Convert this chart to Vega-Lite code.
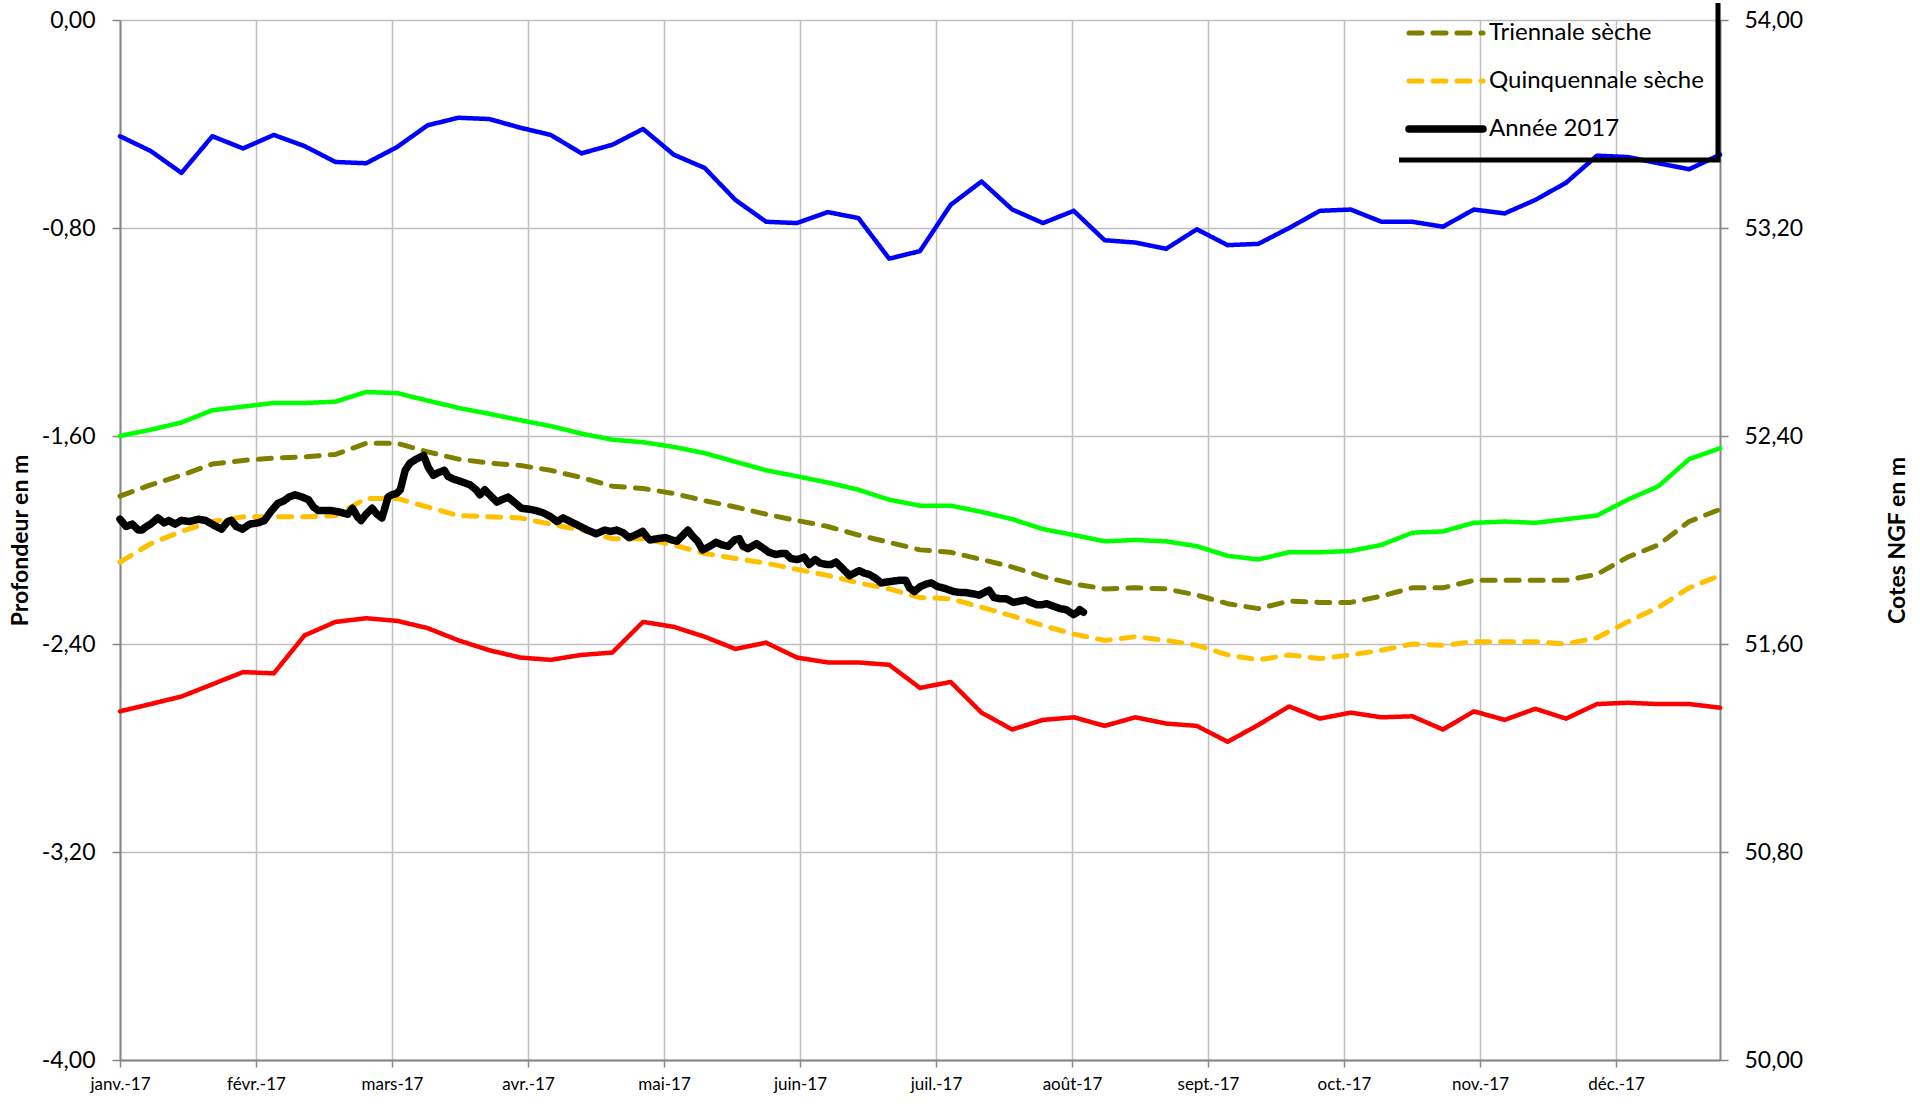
{
  "$schema": "https://vega.github.io/schema/vega-lite/v6.json",
  "width": 1600,
  "height": 1040,
  "autosize": {"type": "none"},
  "padding": {"left": 120, "top": 20, "right": 200, "bottom": 45},
  "background": "white",
  "config": {
    "font": "Lato",
    "view": {"stroke": null},
    "axis": {
      "labelFont": "Lato",
      "labelColor": "black",
      "titleFont": "Lato",
      "titleColor": "black",
      "domainColor": "#868686",
      "domainWidth": 2,
      "tickColor": "#868686",
      "tickWidth": 1.5,
      "gridColor": "#BFBFBF",
      "gridWidth": 1.5
    }
  },
  "datasets": {
    "stats": [
      {"mois": 0, "Maximum": -0.447, "Moyenne": -1.600, "Minimum": -2.659, "Triennale sèche": -1.831, "Quinquennale sèche": -2.085},
      {"mois": 0.226, "Maximum": -0.504, "Moyenne": -1.576, "Minimum": -2.631, "Triennale sèche": -1.788, "Quinquennale sèche": -2.014},
      {"mois": 0.452, "Maximum": -0.588, "Moyenne": -1.548, "Minimum": -2.602, "Triennale sèche": -1.751, "Quinquennale sèche": -1.967},
      {"mois": 0.679, "Maximum": -0.447, "Moyenne": -1.501, "Minimum": -2.555, "Triennale sèche": -1.708, "Quinquennale sèche": -1.929},
      {"mois": 0.905, "Maximum": -0.494, "Moyenne": -1.487, "Minimum": -2.508, "Triennale sèche": -1.694, "Quinquennale sèche": -1.911},
      {"mois": 1.131, "Maximum": -0.442, "Moyenne": -1.473, "Minimum": -2.513, "Triennale sèche": -1.685, "Quinquennale sèche": -1.911},
      {"mois": 1.357, "Maximum": -0.485, "Moyenne": -1.473, "Minimum": -2.367, "Triennale sèche": -1.680, "Quinquennale sèche": -1.911},
      {"mois": 1.584, "Maximum": -0.546, "Moyenne": -1.468, "Minimum": -2.315, "Triennale sèche": -1.671, "Quinquennale sèche": -1.906},
      {"mois": 1.810, "Maximum": -0.551, "Moyenne": -1.431, "Minimum": -2.301, "Triennale sèche": -1.628, "Quinquennale sèche": -1.840},
      {"mois": 2.036, "Maximum": -0.489, "Moyenne": -1.435, "Minimum": -2.311, "Triennale sèche": -1.628, "Quinquennale sèche": -1.840},
      {"mois": 2.262, "Maximum": -0.405, "Moyenne": -1.464, "Minimum": -2.339, "Triennale sèche": -1.661, "Quinquennale sèche": -1.873},
      {"mois": 2.489, "Maximum": -0.376, "Moyenne": -1.492, "Minimum": -2.386, "Triennale sèche": -1.689, "Quinquennale sèche": -1.906},
      {"mois": 2.715, "Maximum": -0.381, "Moyenne": -1.515, "Minimum": -2.424, "Triennale sèche": -1.704, "Quinquennale sèche": -1.911},
      {"mois": 2.941, "Maximum": -0.414, "Moyenne": -1.539, "Minimum": -2.452, "Triennale sèche": -1.713, "Quinquennale sèche": -1.915},
      {"mois": 3.167, "Maximum": -0.442, "Moyenne": -1.562, "Minimum": -2.461, "Triennale sèche": -1.732, "Quinquennale sèche": -1.939},
      {"mois": 3.394, "Maximum": -0.513, "Moyenne": -1.591, "Minimum": -2.442, "Triennale sèche": -1.760, "Quinquennale sèche": -1.962},
      {"mois": 3.620, "Maximum": -0.480, "Moyenne": -1.614, "Minimum": -2.433, "Triennale sèche": -1.793, "Quinquennale sèche": -1.995},
      {"mois": 3.846, "Maximum": -0.419, "Moyenne": -1.624, "Minimum": -2.315, "Triennale sèche": -1.802, "Quinquennale sèche": -1.995},
      {"mois": 4.072, "Maximum": -0.518, "Moyenne": -1.642, "Minimum": -2.334, "Triennale sèche": -1.821, "Quinquennale sèche": -2.019},
      {"mois": 4.299, "Maximum": -0.569, "Moyenne": -1.666, "Minimum": -2.372, "Triennale sèche": -1.849, "Quinquennale sèche": -2.052},
      {"mois": 4.525, "Maximum": -0.692, "Moyenne": -1.699, "Minimum": -2.419, "Triennale sèche": -1.873, "Quinquennale sèche": -2.071},
      {"mois": 4.751, "Maximum": -0.776, "Moyenne": -1.732, "Minimum": -2.395, "Triennale sèche": -1.901, "Quinquennale sèche": -2.089},
      {"mois": 4.977, "Maximum": -0.781, "Moyenne": -1.755, "Minimum": -2.452, "Triennale sèche": -1.925, "Quinquennale sèche": -2.113},
      {"mois": 5.204, "Maximum": -0.739, "Moyenne": -1.779, "Minimum": -2.471, "Triennale sèche": -1.948, "Quinquennale sèche": -2.136},
      {"mois": 5.430, "Maximum": -0.762, "Moyenne": -1.807, "Minimum": -2.471, "Triennale sèche": -1.981, "Quinquennale sèche": -2.165},
      {"mois": 5.656, "Maximum": -0.918, "Moyenne": -1.845, "Minimum": -2.480, "Triennale sèche": -2.009, "Quinquennale sèche": -2.188},
      {"mois": 5.882, "Maximum": -0.889, "Moyenne": -1.868, "Minimum": -2.569, "Triennale sèche": -2.038, "Quinquennale sèche": -2.221},
      {"mois": 6.108, "Maximum": -0.711, "Moyenne": -1.868, "Minimum": -2.546, "Triennale sèche": -2.047, "Quinquennale sèche": -2.226},
      {"mois": 6.335, "Maximum": -0.621, "Moyenne": -1.892, "Minimum": -2.664, "Triennale sèche": -2.075, "Quinquennale sèche": -2.259},
      {"mois": 6.561, "Maximum": -0.729, "Moyenne": -1.920, "Minimum": -2.729, "Triennale sèche": -2.104, "Quinquennale sèche": -2.292},
      {"mois": 6.787, "Maximum": -0.781, "Moyenne": -1.958, "Minimum": -2.692, "Triennale sèche": -2.141, "Quinquennale sèche": -2.329},
      {"mois": 7.013, "Maximum": -0.734, "Moyenne": -1.981, "Minimum": -2.682, "Triennale sèche": -2.169, "Quinquennale sèche": -2.362},
      {"mois": 7.240, "Maximum": -0.847, "Moyenne": -2.005, "Minimum": -2.715, "Triennale sèche": -2.188, "Quinquennale sèche": -2.386},
      {"mois": 7.466, "Maximum": -0.856, "Moyenne": -2.000, "Minimum": -2.682, "Triennale sèche": -2.184, "Quinquennale sèche": -2.372},
      {"mois": 7.692, "Maximum": -0.880, "Moyenne": -2.005, "Minimum": -2.706, "Triennale sèche": -2.188, "Quinquennale sèche": -2.386},
      {"mois": 7.918, "Maximum": -0.805, "Moyenne": -2.024, "Minimum": -2.715, "Triennale sèche": -2.212, "Quinquennale sèche": -2.405},
      {"mois": 8.145, "Maximum": -0.866, "Moyenne": -2.061, "Minimum": -2.776, "Triennale sèche": -2.245, "Quinquennale sèche": -2.442},
      {"mois": 8.371, "Maximum": -0.861, "Moyenne": -2.075, "Minimum": -2.711, "Triennale sèche": -2.264, "Quinquennale sèche": -2.461},
      {"mois": 8.597, "Maximum": -0.800, "Moyenne": -2.047, "Minimum": -2.640, "Triennale sèche": -2.235, "Quinquennale sèche": -2.442},
      {"mois": 8.823, "Maximum": -0.734, "Moyenne": -2.047, "Minimum": -2.687, "Triennale sèche": -2.240, "Quinquennale sèche": -2.456},
      {"mois": 9.050, "Maximum": -0.729, "Moyenne": -2.042, "Minimum": -2.664, "Triennale sèche": -2.240, "Quinquennale sèche": -2.442},
      {"mois": 9.276, "Maximum": -0.776, "Moyenne": -2.019, "Minimum": -2.682, "Triennale sèche": -2.216, "Quinquennale sèche": -2.424},
      {"mois": 9.502, "Maximum": -0.776, "Moyenne": -1.972, "Minimum": -2.678, "Triennale sèche": -2.184, "Quinquennale sèche": -2.400},
      {"mois": 9.728, "Maximum": -0.795, "Moyenne": -1.967, "Minimum": -2.729, "Triennale sèche": -2.184, "Quinquennale sèche": -2.405},
      {"mois": 9.955, "Maximum": -0.729, "Moyenne": -1.934, "Minimum": -2.659, "Triennale sèche": -2.155, "Quinquennale sèche": -2.391},
      {"mois": 10.181, "Maximum": -0.744, "Moyenne": -1.929, "Minimum": -2.692, "Triennale sèche": -2.155, "Quinquennale sèche": -2.391},
      {"mois": 10.407, "Maximum": -0.692, "Moyenne": -1.934, "Minimum": -2.649, "Triennale sèche": -2.155, "Quinquennale sèche": -2.391},
      {"mois": 10.633, "Maximum": -0.626, "Moyenne": -1.920, "Minimum": -2.687, "Triennale sèche": -2.155, "Quinquennale sèche": -2.400},
      {"mois": 10.860, "Maximum": -0.522, "Moyenne": -1.906, "Minimum": -2.631, "Triennale sèche": -2.132, "Quinquennale sèche": -2.376},
      {"mois": 11.086, "Maximum": -0.527, "Moyenne": -1.845, "Minimum": -2.626, "Triennale sèche": -2.066, "Quinquennale sèche": -2.315},
      {"mois": 11.312, "Maximum": -0.551, "Moyenne": -1.793, "Minimum": -2.631, "Triennale sèche": -2.019, "Quinquennale sèche": -2.259},
      {"mois": 11.538, "Maximum": -0.574, "Moyenne": -1.689, "Minimum": -2.631, "Triennale sèche": -1.929, "Quinquennale sèche": -2.184},
      {"mois": 11.765, "Maximum": -0.518, "Moyenne": -1.647, "Minimum": -2.645, "Triennale sèche": -1.882, "Quinquennale sèche": -2.136}
    ],
    "annee": [
      {"mois": 0, "Année 2017": -1.920},
      {"mois": 0.045, "Année 2017": -1.948},
      {"mois": 0.090, "Année 2017": -1.939},
      {"mois": 0.135, "Année 2017": -1.962},
      {"mois": 0.162, "Année 2017": -1.962},
      {"mois": 0.180, "Année 2017": -1.953},
      {"mois": 0.225, "Année 2017": -1.939},
      {"mois": 0.279, "Année 2017": -1.915},
      {"mois": 0.324, "Année 2017": -1.934},
      {"mois": 0.360, "Année 2017": -1.925},
      {"mois": 0.405, "Année 2017": -1.939},
      {"mois": 0.450, "Année 2017": -1.925},
      {"mois": 0.513, "Année 2017": -1.929},
      {"mois": 0.576, "Année 2017": -1.920},
      {"mois": 0.630, "Année 2017": -1.925},
      {"mois": 0.693, "Année 2017": -1.944},
      {"mois": 0.747, "Année 2017": -1.958},
      {"mois": 0.792, "Année 2017": -1.929},
      {"mois": 0.819, "Année 2017": -1.925},
      {"mois": 0.855, "Année 2017": -1.948},
      {"mois": 0.900, "Année 2017": -1.958},
      {"mois": 0.954, "Année 2017": -1.939},
      {"mois": 1.017, "Année 2017": -1.934},
      {"mois": 1.062, "Année 2017": -1.925},
      {"mois": 1.107, "Année 2017": -1.892},
      {"mois": 1.161, "Année 2017": -1.859},
      {"mois": 1.206, "Année 2017": -1.849},
      {"mois": 1.242, "Année 2017": -1.835},
      {"mois": 1.287, "Année 2017": -1.826},
      {"mois": 1.341, "Année 2017": -1.835},
      {"mois": 1.386, "Année 2017": -1.845},
      {"mois": 1.422, "Année 2017": -1.873},
      {"mois": 1.458, "Année 2017": -1.887},
      {"mois": 1.512, "Année 2017": -1.887},
      {"mois": 1.557, "Année 2017": -1.887},
      {"mois": 1.611, "Année 2017": -1.892},
      {"mois": 1.674, "Année 2017": -1.901},
      {"mois": 1.710, "Année 2017": -1.878},
      {"mois": 1.746, "Année 2017": -1.911},
      {"mois": 1.773, "Année 2017": -1.925},
      {"mois": 1.809, "Année 2017": -1.901},
      {"mois": 1.854, "Année 2017": -1.878},
      {"mois": 1.890, "Année 2017": -1.901},
      {"mois": 1.926, "Année 2017": -1.915},
      {"mois": 1.971, "Année 2017": -1.835},
      {"mois": 1.998, "Année 2017": -1.826},
      {"mois": 2.034, "Année 2017": -1.821},
      {"mois": 2.061, "Année 2017": -1.807},
      {"mois": 2.097, "Année 2017": -1.732},
      {"mois": 2.133, "Année 2017": -1.704},
      {"mois": 2.178, "Année 2017": -1.689},
      {"mois": 2.232, "Année 2017": -1.675},
      {"mois": 2.268, "Année 2017": -1.722},
      {"mois": 2.304, "Année 2017": -1.751},
      {"mois": 2.340, "Année 2017": -1.741},
      {"mois": 2.385, "Année 2017": -1.732},
      {"mois": 2.412, "Année 2017": -1.755},
      {"mois": 2.448, "Année 2017": -1.765},
      {"mois": 2.502, "Année 2017": -1.774},
      {"mois": 2.574, "Année 2017": -1.788},
      {"mois": 2.619, "Année 2017": -1.807},
      {"mois": 2.646, "Année 2017": -1.826},
      {"mois": 2.682, "Année 2017": -1.807},
      {"mois": 2.727, "Année 2017": -1.831},
      {"mois": 2.772, "Année 2017": -1.854},
      {"mois": 2.808, "Année 2017": -1.845},
      {"mois": 2.853, "Année 2017": -1.835},
      {"mois": 2.898, "Année 2017": -1.854},
      {"mois": 2.952, "Année 2017": -1.878},
      {"mois": 3.015, "Année 2017": -1.882},
      {"mois": 3.060, "Année 2017": -1.887},
      {"mois": 3.114, "Année 2017": -1.896},
      {"mois": 3.168, "Année 2017": -1.911},
      {"mois": 3.213, "Année 2017": -1.929},
      {"mois": 3.258, "Année 2017": -1.915},
      {"mois": 3.312, "Année 2017": -1.929},
      {"mois": 3.384, "Année 2017": -1.948},
      {"mois": 3.438, "Année 2017": -1.962},
      {"mois": 3.501, "Année 2017": -1.976},
      {"mois": 3.564, "Année 2017": -1.962},
      {"mois": 3.609, "Année 2017": -1.967},
      {"mois": 3.654, "Année 2017": -1.962},
      {"mois": 3.699, "Année 2017": -1.972},
      {"mois": 3.744, "Année 2017": -1.991},
      {"mois": 3.789, "Année 2017": -1.981},
      {"mois": 3.843, "Année 2017": -1.967},
      {"mois": 3.879, "Année 2017": -1.991},
      {"mois": 3.897, "Année 2017": -2.000},
      {"mois": 3.951, "Année 2017": -1.995},
      {"mois": 4.014, "Année 2017": -1.991},
      {"mois": 4.059, "Année 2017": -2.000},
      {"mois": 4.095, "Année 2017": -2.005},
      {"mois": 4.140, "Année 2017": -1.981},
      {"mois": 4.176, "Année 2017": -1.962},
      {"mois": 4.212, "Année 2017": -1.986},
      {"mois": 4.248, "Année 2017": -2.005},
      {"mois": 4.284, "Année 2017": -2.038},
      {"mois": 4.338, "Année 2017": -2.024},
      {"mois": 4.383, "Année 2017": -2.009},
      {"mois": 4.428, "Année 2017": -2.019},
      {"mois": 4.473, "Année 2017": -2.024},
      {"mois": 4.518, "Année 2017": -2.000},
      {"mois": 4.554, "Année 2017": -1.995},
      {"mois": 4.581, "Année 2017": -2.024},
      {"mois": 4.617, "Année 2017": -2.033},
      {"mois": 4.680, "Année 2017": -2.014},
      {"mois": 4.734, "Année 2017": -2.033},
      {"mois": 4.770, "Année 2017": -2.047},
      {"mois": 4.824, "Année 2017": -2.056},
      {"mois": 4.860, "Année 2017": -2.052},
      {"mois": 4.896, "Année 2017": -2.052},
      {"mois": 4.932, "Année 2017": -2.071},
      {"mois": 4.977, "Année 2017": -2.075},
      {"mois": 5.004, "Année 2017": -2.071},
      {"mois": 5.031, "Année 2017": -2.066},
      {"mois": 5.067, "Année 2017": -2.094},
      {"mois": 5.112, "Année 2017": -2.075},
      {"mois": 5.148, "Année 2017": -2.089},
      {"mois": 5.193, "Année 2017": -2.094},
      {"mois": 5.229, "Année 2017": -2.094},
      {"mois": 5.265, "Année 2017": -2.085},
      {"mois": 5.310, "Année 2017": -2.108},
      {"mois": 5.364, "Année 2017": -2.137},
      {"mois": 5.400, "Année 2017": -2.127},
      {"mois": 5.436, "Année 2017": -2.118},
      {"mois": 5.472, "Année 2017": -2.127},
      {"mois": 5.508, "Année 2017": -2.132},
      {"mois": 5.553, "Année 2017": -2.146},
      {"mois": 5.598, "Année 2017": -2.165},
      {"mois": 5.661, "Année 2017": -2.160},
      {"mois": 5.733, "Année 2017": -2.155},
      {"mois": 5.778, "Année 2017": -2.155},
      {"mois": 5.805, "Année 2017": -2.184},
      {"mois": 5.841, "Année 2017": -2.198},
      {"mois": 5.886, "Année 2017": -2.179},
      {"mois": 5.931, "Année 2017": -2.169},
      {"mois": 5.967, "Année 2017": -2.165},
      {"mois": 6.012, "Année 2017": -2.179},
      {"mois": 6.075, "Année 2017": -2.188},
      {"mois": 6.129, "Année 2017": -2.198},
      {"mois": 6.174, "Année 2017": -2.202},
      {"mois": 6.219, "Année 2017": -2.202},
      {"mois": 6.273, "Année 2017": -2.207},
      {"mois": 6.318, "Année 2017": -2.212},
      {"mois": 6.354, "Année 2017": -2.202},
      {"mois": 6.390, "Année 2017": -2.193},
      {"mois": 6.426, "Année 2017": -2.221},
      {"mois": 6.471, "Année 2017": -2.226},
      {"mois": 6.516, "Année 2017": -2.226},
      {"mois": 6.570, "Année 2017": -2.240},
      {"mois": 6.615, "Année 2017": -2.235},
      {"mois": 6.660, "Année 2017": -2.231},
      {"mois": 6.697, "Année 2017": -2.240},
      {"mois": 6.742, "Année 2017": -2.249},
      {"mois": 6.778, "Année 2017": -2.249},
      {"mois": 6.814, "Année 2017": -2.245},
      {"mois": 6.859, "Année 2017": -2.254},
      {"mois": 6.913, "Année 2017": -2.264},
      {"mois": 6.958, "Année 2017": -2.268},
      {"mois": 7.012, "Année 2017": -2.287},
      {"mois": 7.039, "Année 2017": -2.278},
      {"mois": 7.057, "Année 2017": -2.268},
      {"mois": 7.084, "Année 2017": -2.278}
    ],
    "cotes": [{"cote": 50}, {"cote": 54}]
  },
  "layer": [
    {
      "encoding": {
        "x": {
          "field": "mois",
          "type": "quantitative",
          "scale": {"domain": [0, 11.765], "nice": false, "zero": false},
          "axis": {
            "values": [0, 1, 2, 3, 4, 5, 6, 7, 8, 9, 10, 11],
            "labelExpr": "['janv.-17','févr.-17','mars-17','avr.-17','mai-17','juin-17','juil.-17','août-17','sept.-17','oct.-17','nov.-17','déc.-17'][datum.value]",
            "labelFontSize": 17,
            "labelAngle": 0,
            "labelFlush": false,
            "labelOverlap": false,
            "tickSize": 7,
            "labelPadding": 9,
            "title": null,
            "grid": true
          }
        },
        "y": {
          "field": "profondeur",
          "type": "quantitative",
          "scale": {"domain": [-4, 0], "nice": false, "zero": false},
          "axis": {
            "values": [-4, -3.2, -2.4, -1.6, -0.8, 0],
            "labelExpr": "(datum.value < 0 ? '-' : '') + replace(format(abs(datum.value), '.2f'), '.', ',')",
            "labelFontSize": 23,
            "tickSize": 8,
            "labelPadding": 17,
            "title": "Profondeur en m",
            "titleFontSize": 23,
            "titleFontWeight": "bold",
            "titleX": -100,
            "titleY": 520,
            "titleAngle": 270,
            "titleBaseline": "middle",
            "titleAlign": "center",
            "grid": true
          }
        },
        "color": {
          "field": "serie",
          "type": "nominal",
          "scale": {
            "domain": ["Maximum", "Moyenne", "Minimum", "Triennale sèche", "Quinquennale sèche", "Année 2017"],
            "range": ["#0000FF", "#00FF00", "#FF0000", "#808000", "#FFC000", "#000000"]
          },
          "legend": {
            "orient": "none",
            "legendX": 1271,
            "legendY": -18,
            "title": null,
            "values": ["Triennale sèche", "Quinquennale sèche", "Année 2017"],
            "direction": "vertical",
            "labelFont": "Lato",
            "labelFontSize": 24,
            "labelColor": "black",
            "labelLimit": 400,
            "symbolType": "stroke",
            "symbolSize": 5476,
            "labelOffset": 2,
            "clipHeight": 34,
            "rowPadding": 14,
            "padding": 14,
            "encode": {
              "legend": {"update": {"stroke": {"value": "black"}, "strokeWidth": {"value": 5}, "strokeDash": {"value": [0, 328, 476, 5000]}}},
              "symbols": {"update": {"strokeCap": {"value": "round"}}}
            }
          }
        },
        "strokeDash": {
          "field": "serie",
          "type": "nominal",
          "scale": {
            "domain": ["Maximum", "Moyenne", "Minimum", "Triennale sèche", "Quinquennale sèche", "Année 2017"],
            "range": [[1, 0], [1, 0], [1, 0], [13, 11], [13, 11], [1, 0]]
          }
        },
        "strokeWidth": {
          "field": "serie",
          "type": "nominal",
          "scale": {
            "type": "ordinal",
            "domain": ["Maximum", "Moyenne", "Minimum", "Triennale sèche", "Quinquennale sèche", "Année 2017"],
            "range": [4.5, 4.5, 4.5, 5, 5, 7.5]
          }
        }
      },
      "layer": [
        {
          "data": {"name": "stats"},
          "transform": [
            {"fold": ["Maximum", "Moyenne", "Minimum", "Triennale sèche", "Quinquennale sèche"], "as": ["serie", "profondeur"]}
          ],
          "mark": {"type": "line", "strokeCap": "round", "strokeJoin": "round"}
        },
        {
          "data": {"name": "annee"},
          "transform": [
            {"fold": ["Année 2017"], "as": ["serie", "profondeur"]}
          ],
          "mark": {"type": "line", "strokeCap": "round", "strokeJoin": "round"}
        }
      ]
    },
    {
      "data": {"name": "cotes"},
      "mark": {"type": "point", "opacity": 0},
      "encoding": {
        "y": {
          "field": "cote",
          "type": "quantitative",
          "scale": {"domain": [50, 54], "nice": false, "zero": false},
          "axis": {
            "orient": "right",
            "values": [50, 50.8, 51.6, 52.4, 53.2, 54],
            "labelExpr": "replace(format(datum.value, '.2f'), '.', ',')",
            "labelFontSize": 23,
            "tickSize": 8,
            "labelPadding": 16,
            "title": "Cotes NGF en m",
            "titleFontSize": 23,
            "titleFontWeight": "bold",
            "titleX": 177,
            "titleY": 520,
            "titleAngle": 270,
            "titleBaseline": "middle",
            "titleAlign": "center",
            "grid": false
          }
        }
      }
    }
  ],
  "resolve": {"scale": {"y": "independent"}}
}
